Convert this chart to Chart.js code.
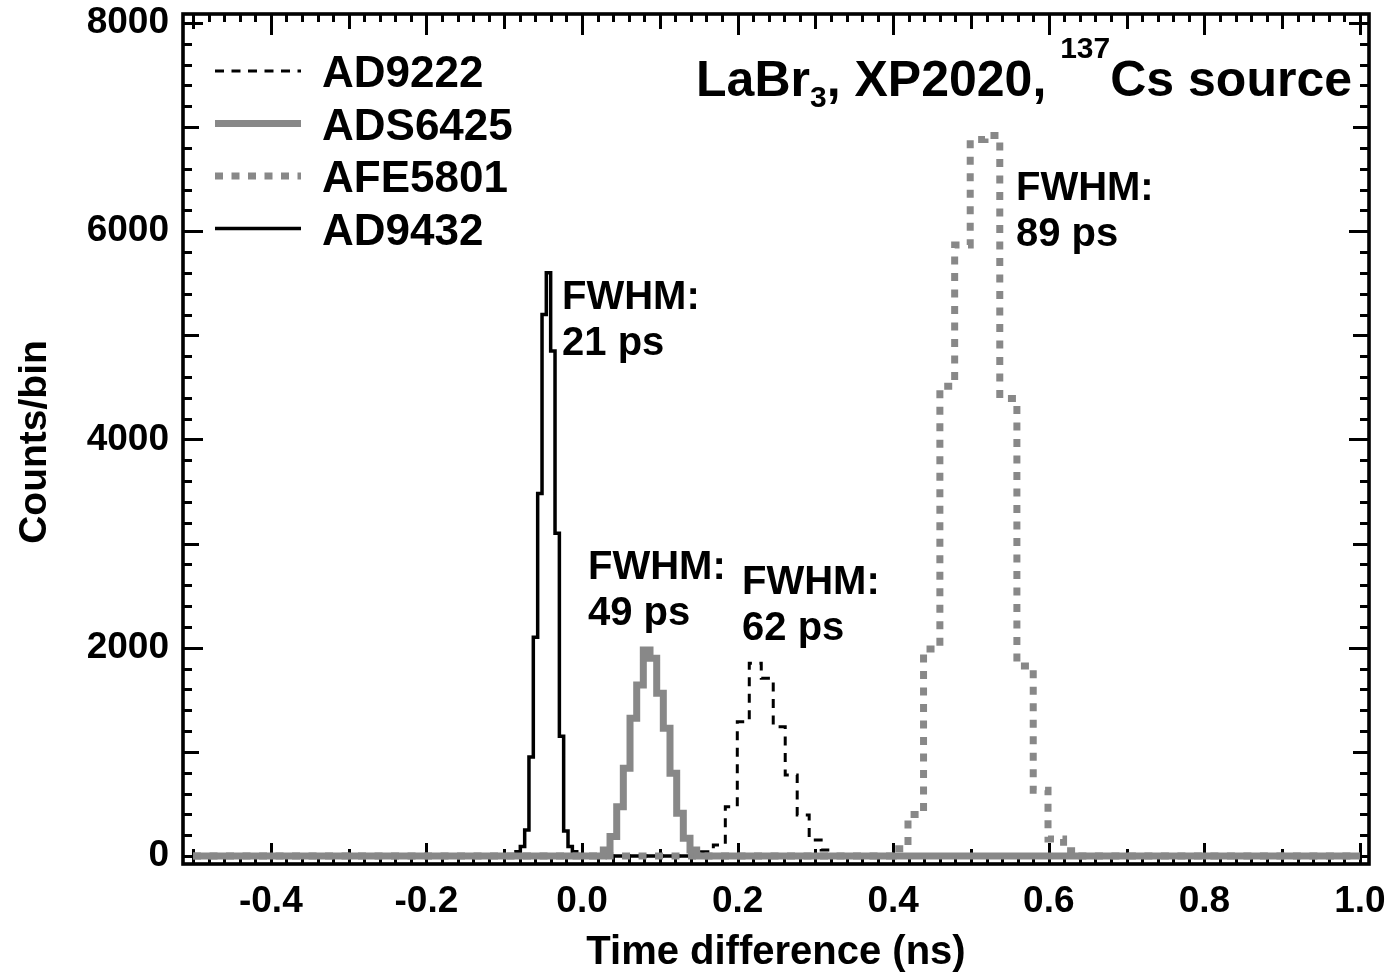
<!DOCTYPE html>
<html><head><meta charset="utf-8">
<script src="https://cdn.jsdelivr.net/npm/chart.js@4.4.0/dist/chart.umd.min.js"></script>
<style>html,body{margin:0;padding:0;background:#fff;overflow:hidden}#wrap{width:1391px;height:974px;position:relative}</style>
</head><body><div id="wrap"><canvas id="c" width="1391" height="974"></canvas></div>
<script>
const FONT = "'Liberation Sans', Arial, Helvetica, sans-serif";

// ---- data (bin left edges in ns, counts per bin) ----
const seriesNames = ['AD9222', 'ADS6425', 'AFE5801', 'AD9432'];
const ad9222Edges  = [0.1534, 0.1688, 0.1842, 0.1996, 0.2150, 0.2304, 0.2458, 0.2612, 0.2766, 0.2920, 0.3074, 0.3228];
const ad9222Counts = [40, 106, 474, 1290, 1850, 1706, 1242, 778, 394, 154, 58];
const ads6425Edges  = [0.0274, 0.0360, 0.0446, 0.0531, 0.0617, 0.0703, 0.0788, 0.0874, 0.0960, 0.1045, 0.1131, 0.1217, 0.1302, 0.1388, 0.1474];
const ads6425Counts = [58, 186, 474, 842, 1322, 1642, 1978, 1898, 1562, 1226, 794, 410, 170, 58];
const afe5801Edges  = [0.400, 0.419, 0.439, 0.460, 0.479, 0.499, 0.518, 0.537, 0.559, 0.580, 0.599, 0.619, 0.638];
const afe5801Counts = [70, 398, 1988, 4512, 5868, 6880, 6920, 4394, 1825, 631, 164, 50];
const ad9432Edges  = [-0.0849, -0.0793, -0.0737, -0.0682, -0.0626, -0.0570, -0.0514, -0.0459, -0.0403, -0.0347, -0.0291, -0.0236, -0.0180, -0.0124, -0.0068];
const ad9432Counts = [40, 90, 250, 950, 2100, 3480, 5200, 5600, 4850, 3100, 1150, 240, 90, 40];
const xRange = [-0.5, 1.0];          // histogram range
const xTickValues = [-0.4, -0.2, 0.0, 0.2, 0.4, 0.6, 0.8, 1.0];
const yTickValues = [0, 2000, 4000, 6000, 8000];
const fwhmLabels = ['21 ps', '49 ps', '62 ps', '89 ps'];
const titleParts = ['LaBr', '3', ', XP2020, ', '137', 'Cs source'];

// ---- annotation anchors (data coords) ----
const annAnchors = [
  {x: -0.0257, y: 5253},
  {x: 0.0077,  y: 2660},
  {x: 0.2057,  y: 2516},
  {x: 0.5578,  y: 6300}
];

function histPoints(edges, counts) {
  const pts = [{x: xRange[0], y: 0}];
  for (let i = 0; i < counts.length; i++) pts.push({x: edges[i], y: counts[i]});
  pts.push({x: edges[edges.length - 1], y: 0});
  pts.push({x: xRange[1], y: 0});
  return pts;
}

const GREY = '#888888';
const datasets = [
  {label: seriesNames[0], data: histPoints(ad9222Edges, ad9222Counts), borderColor: '#000', borderWidth: 3, borderDash: [9, 7.5], order: 2},
  {label: seriesNames[1], data: histPoints(ads6425Edges, ads6425Counts), borderColor: GREY, borderWidth: 7, borderDash: [], order: 0},
  {label: seriesNames[2], data: histPoints(afe5801Edges, afe5801Counts), borderColor: GREY, borderWidth: 7, borderDash: [8, 8.5], order: 1},
  {label: seriesNames[3], data: histPoints(ad9432Edges, ad9432Counts), borderColor: '#000', borderWidth: 3.5, borderDash: [], order: 3}
].map(d => Object.assign(d, {stepped: 'before', pointRadius: 0, fill: false, tension: 0, borderJoinStyle: 'miter', borderCapStyle: 'butt', spanGaps: true}));

const ticksPlugin = {
  id: 'ticksFrame',
  beforeDatasetsDraw(chart) {
    const {ctx, chartArea: a, scales: {x, y}} = chart;
    ctx.save();
    ctx.strokeStyle = '#000';
    ctx.lineWidth = 3;
    ctx.beginPath();
    for (let i = -25; i <= 50; i++) {
      const px = Math.round(x.getPixelForValue(i * 0.02)) + 0.5;
      const len = (i % 10 === 0) ? 21 : (i % 5 === 0) ? 15 : 8;
      ctx.moveTo(px, a.bottom); ctx.lineTo(px, a.bottom - len);
      ctx.moveTo(px, a.top); ctx.lineTo(px, a.top + len);
    }
    for (let j = 0; j <= 40; j++) {
      const py = Math.round(y.getPixelForValue(j * 200)) + 0.5;
      const len = (j % 10 === 0) ? 20 : (j % 5 === 0) ? 16 : 9;
      ctx.moveTo(a.left, py); ctx.lineTo(a.left + len, py);
      ctx.moveTo(a.right, py); ctx.lineTo(a.right - len, py);
    }
    ctx.stroke();
    ctx.lineWidth = 3.6;
    ctx.strokeRect(a.left, a.top, a.right - a.left, a.bottom - a.top);
    ctx.restore();
  },
  afterDraw(chart) {
    const {ctx, chartArea: a, scales: {x, y}} = chart;
    ctx.save();
    ctx.fillStyle = '#000';
    // legend
    chart.data.datasets.forEach((ds, i) => {
      const ly = a.top + 57 + i * 52.5;
      ctx.beginPath();
      ctx.strokeStyle = ds.borderColor;
      ctx.lineWidth = ds.borderWidth;
      ctx.setLineDash(ds.borderDash || []);
      ctx.lineCap = 'butt';
      ctx.moveTo(a.left + 32, ly); ctx.lineTo(a.left + 118, ly);
      ctx.stroke();
      ctx.setLineDash([]);
      ctx.font = `bold 44px ${FONT}`;
      ctx.textAlign = 'left'; ctx.textBaseline = 'alphabetic';
      ctx.fillText(ds.label, a.left + 139, ly + 16);
    });
    // FWHM annotations
    ctx.font = `bold 40px ${FONT}`;
    annAnchors.forEach((p, i) => {
      const px = x.getPixelForValue(p.x), py = y.getPixelForValue(p.y);
      ctx.fillText('FWHM:', px, py);
      ctx.fillText(fwhmLabels[i], px, py + 46);
    });
    // title with sub/superscript
    const parts = [
      {t: titleParts[0], s: 50, dy: 0},
      {t: titleParts[1], s: 30, dy: 11},
      {t: titleParts[2], s: 50, dy: 0},
      {t: titleParts[3], s: 30, dy: -38},
      {t: titleParts[4], s: 50, dy: 0}
    ];
    const w = parts.map(p => { ctx.font = `bold ${p.s}px ${FONT}`; return ctx.measureText(p.t).width; });
    let tx = a.right - 17 - w.reduce((s, v) => s + v, 0);
    const tb = 96;
    parts.forEach((p, i) => { ctx.font = `bold ${p.s}px ${FONT}`; ctx.fillText(p.t, tx, tb + p.dy); tx += w[i]; });
    // axis titles
    ctx.font = `bold 40px ${FONT}`;
    ctx.textAlign = 'center';
    ctx.fillText('Time difference (ns)', 776, 964);
    ctx.save();
    ctx.translate(46, 442);
    ctx.rotate(-Math.PI / 2);
    ctx.font = `bold 39px ${FONT}`;
    ctx.fillText('Counts/bin', 0, 0);
    ctx.restore();
    ctx.restore();
  }
};

new Chart(document.getElementById('c'), {
  type: 'line',
  data: {datasets},
  options: {
    responsive: false,
    animation: false,
    events: [],
    layout: {padding: {left: 0, right: 22, top: 14, bottom: 0}},
    plugins: {legend: {display: false}, tooltip: {enabled: false}, title: {display: false}},
    scales: {
      x: {
        type: 'linear', min: -0.5129, max: 1.0116,
        grid: {display: false, drawTicks: false}, border: {display: false},
        afterBuildTicks: s => { s.ticks = xTickValues.map(v => ({value: v})); },
        afterFit: s => { s.height = 110; s.paddingLeft = 0; s.paddingRight = 0; },
        ticks: {color: '#000', padding: 16, maxRotation: 0, autoSkip: false,
          font: {family: FONT, size: 37, weight: 'bold'},
          callback: v => Number(v).toFixed(1)}
      },
      y: {
        type: 'linear', min: -77, max: 8086,
        grid: {display: false, drawTicks: false}, border: {display: false},
        afterBuildTicks: s => { s.ticks = yTickValues.map(v => ({value: v})); },
        afterFit: s => { s.width = 183; s.paddingTop = 0; s.paddingBottom = 0; },
        ticks: {color: '#000', padding: 14, autoSkip: false,
          font: {family: FONT, size: 37, weight: 'bold'},
          callback: v => String(v)}
      }
    }
  },
  plugins: [ticksPlugin]
});
</script>
</body></html>
